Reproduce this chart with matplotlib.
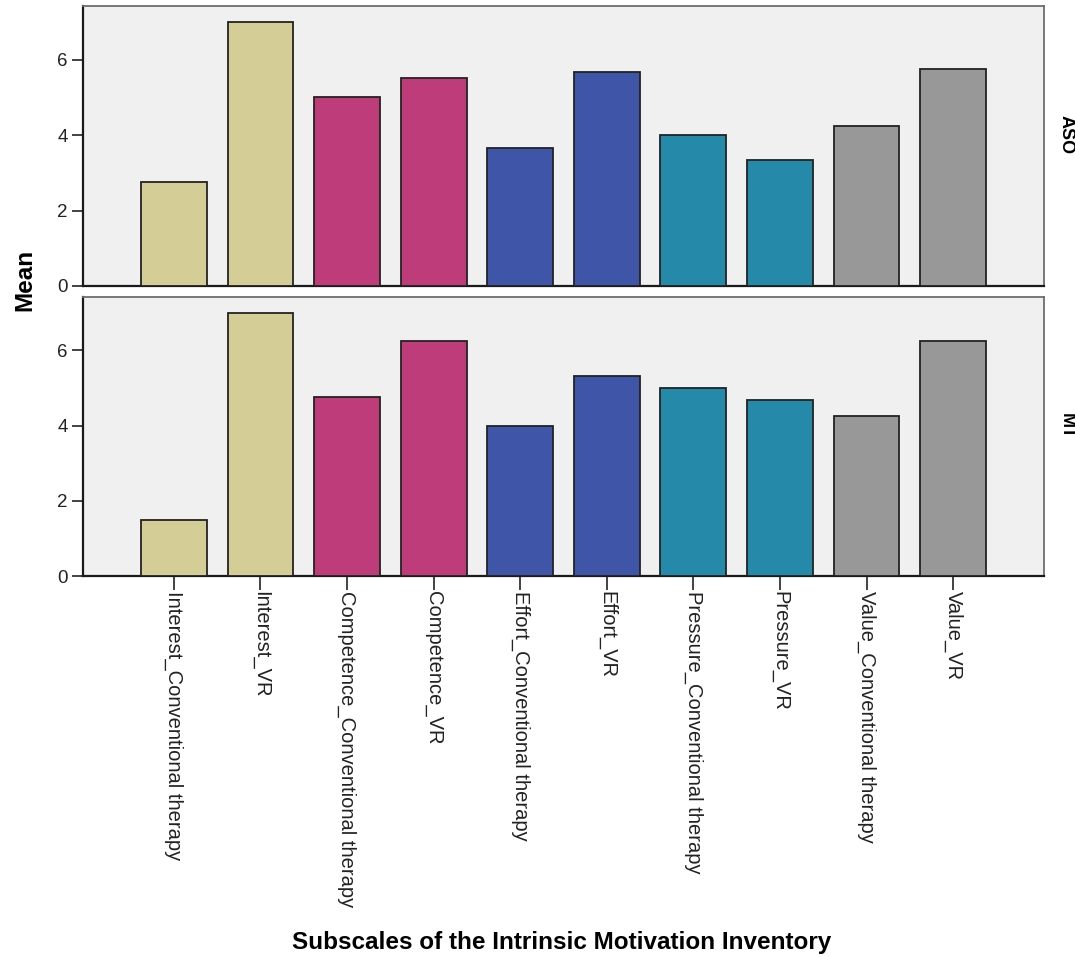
import matplotlib
matplotlib.use("Agg")
import matplotlib.pyplot as plt
import numpy as np

# subscales (x categories)
subscales = ["Interest_Conventional therapy", "Interest_VR",
             "Competence_Conventional therapy", "Competence_VR",
             "Effort_Conventional therapy", "Effort_VR",
             "Pressure_Conventional therapy", "Pressure_VR",
             "Value_Conventional therapy", "Value_VR"]

# mean scores per group
groups = ["ASO", "MT"]
means_aso = [2.75, 7.0, 5.0, 5.5, 3.67, 5.67, 4.0, 3.33, 4.25, 5.75]
means_mt = [1.5, 7.0, 4.75, 6.25, 4.0, 5.33, 5.0, 4.67, 4.25, 6.25]

# one colour per subscale pair
pair_colors = ["#D4CE96", "#BE3C7A", "#3F56A8", "#2589AA", "#989898"]

plt.rcParams["font.family"] = ["Liberation Sans", "DejaVu Sans"]

fig = plt.figure(figsize=(10.75, 9.58), dpi=100)
x = np.arange(len(subscales))
bar_colors = [pair_colors[i // 2] for i in range(len(subscales))]

panels = [(0.7015, 0.2922), (0.3987, 0.2913)]
label_y = [1 - 115 / 958, 1 - 413 / 958]
for k, (values, grp) in enumerate(zip([means_aso, means_mt], groups)):
    bottom, height = panels[k]
    ax = fig.add_axes([0.0772, bottom, 0.8940, height])
    ax.set_facecolor("#F0F0F0")
    ax.bar(x, values, width=0.76, color=bar_colors,
           edgecolor="#222222", linewidth=1.3, zorder=3)
    ax.set_xlim(-1.05, 10.05)
    ax.set_ylim(0, 7.42)
    ax.set_yticks([0, 2, 4, 6])
    ax.tick_params(axis="y", direction="out", length=8, width=1.2,
                   labelsize=13.5, colors="#222222", pad=3)
    for s in ["top", "right"]:
        ax.spines[s].set_color("#6E6E6E")
        ax.spines[s].set_linewidth(1.3)
    for s in ["left", "bottom"]:
        ax.spines[s].set_color("#1A1A1A")
        ax.spines[s].set_linewidth(1.6)
    if k == 0:
        ax.set_xticks([])
    else:
        ax.set_xticks(x)
        ax.set_xticklabels(subscales, rotation=-90, fontsize=14.5,
                           ha="center", va="top")
        ax.tick_params(axis="x", direction="out", length=10, width=1.2,
                       colors="#222222", pad=1)
    # panel label on the right (cut off by the figure edge)
    fig.text(1066 / 1075, label_y[k], grp, rotation=-90, fontsize=13,
             fontweight="bold", ha="center", va="top")

fig.text(25 / 1075, 1 - 280 / 958, "Mean", rotation=90, fontsize=17.5,
         fontweight="bold", ha="center", va="center")
fig.text(562 / 1075, 1 - 942 / 958, "Subscales of the Intrinsic Motivation Inventory",
         fontsize=17.5, fontweight="bold", ha="center", va="center")

fig.savefig("out.png", dpi=100)
